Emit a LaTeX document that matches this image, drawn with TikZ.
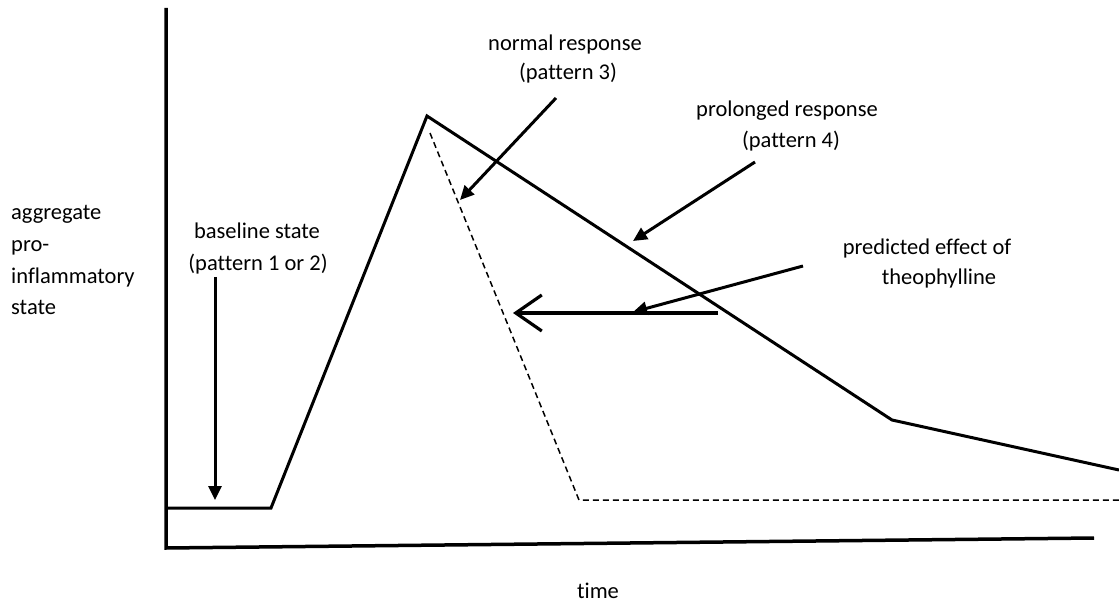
\documentclass[tikz,border=0pt]{standalone}
\usepackage{fontspec}
\setmainfont{Carlito}[Ligatures=NoCommon]
\usetikzlibrary{arrows.meta}
\tikzset{
  lbl/.style={anchor=base,inner sep=0pt,font=\fontsize{22.5bp}{32bp}\selectfont},
  lblw/.style={lbl,anchor=base west},
  axisline/.style={line width=3.5bp},
  curve/.style={line width=3bp},
  dashcurve/.style={line width=1.5bp,dash pattern=on 6bp off 4bp},
  ptr/.style={line width=3bp,-{Triangle[length=14bp,width=13bp]}},
  bigptr/.style={line width=3.2bp,-{Straight Barb[length=26bp,width=36bp,line width=3.2bp]}}
}
\begin{document}
\begin{tikzpicture}[x=1bp,y=-1bp]
\useasboundingbox (0,0) rectangle (1119,603);
% points
\coordinate (ytop) at (166,8);
\coordinate (orig) at (166,548);
\coordinate (xend) at (1094,538);
\coordinate (b0) at (166,508);
\coordinate (b1) at (271,508);
\coordinate (pk) at (427,116);
\coordinate (kn) at (892,420);
\coordinate (pe) at (1119,470);
\coordinate (d0) at (430,133);
\coordinate (d1) at (579,500);
\coordinate (d2) at (1119,500);
% axes
\draw[axisline,line join=miter] (ytop) -- (orig) -- (xend);
% curves
\draw[curve,line join=miter] (b0) -- (b1) -- (pk) -- (kn) -- (pe);
\draw[dashcurve] (d0) -- (d1) -- (d2);
% labels
\node[lblw] (ya1) at (11,220) {aggregate};
\node[lblw] (ya2) at (11,252) {pro-};
\node[lblw] (ya3) at (11,284) {inflammatory};
\node[lblw] (ya4) at (11,315) {state};
\node[lbl] (bl1) at (257,239) {baseline state};
\node[lbl] (bl2) at (258,271) {(pattern 1 or 2)};
\node[lbl] (nr1) at (565,51) {normal response};
\node[lbl] (nr2) at (568,80) {(pattern 3)};
\node[lbl] (pr1) at (787,117) {prolonged response};
\node[lbl] (pr2) at (791,148) {(pattern 4)};
\node[lbl] (th1) at (927,255) {predicted effect of};
\node[lbl] (th2) at (939,285) {theophylline};
\node[lbl] (tm) at (598,598) {time};
% pointer arrows
\coordinate (a1s) at (215,277); \coordinate (a1e) at (215,500);
\coordinate (a2s) at (556,98);  \coordinate (a2e) at (460,200);
\coordinate (a3s) at (755,162); \coordinate (a3e) at (633,241);
\coordinate (a4s) at (803,266); \coordinate (a4e) at (633,312);
\coordinate (a5s) at (718,313); \coordinate (a5e) at (513,313);
\draw[ptr] (a1s) -- (a1e);
\draw[ptr] (a2s) -- (a2e);
\draw[ptr] (a3s) -- (a3e);
\draw[ptr] (a4s) -- (a4e);
\draw[bigptr] (a5s) -- (a5e);
\end{tikzpicture}
\end{document}
